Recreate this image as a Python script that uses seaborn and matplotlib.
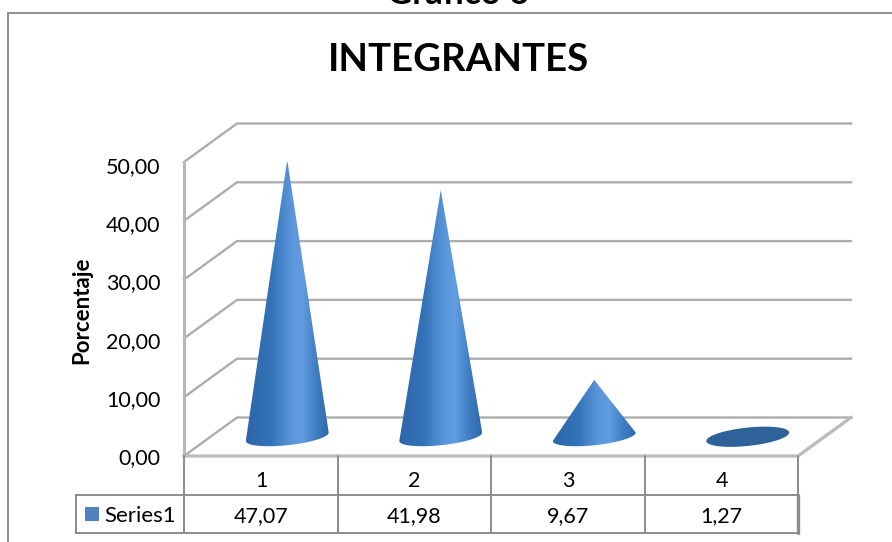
import numpy as np
import pandas as pd
import matplotlib
matplotlib.use("Agg")
import matplotlib.pyplot as plt
from matplotlib.colors import LinearSegmentedColormap
from matplotlib.patches import PathPatch, Rectangle
from matplotlib.path import Path
import seaborn as sns

categories = ["1", "2", "3", "4"]
series_name = "Series1"
values = [47.07, 41.98, 9.67, 1.27]
value_labels = ["47,07", "41,98", "9,67", "1,27"]
y_ticks = [0, 10, 20, 30, 40, 50]
y_tick_labels = ["0,00", "10,00", "20,00", "30,00", "40,00", "50,00"]

W, H = 892, 542
FONT = "Lato"
GRID = "#adadad"
TABLE = "#8c8c8c"
SWATCH = "#4f81bd"

sns.set_theme(style="white")
plt.rcParams["font.family"] = [FONT, "DejaVu Sans"]

fig = plt.figure(figsize=(W / 100, H / 100), dpi=100, facecolor="white")

# Plot floor: front edge of the 3D box, in figure pixels
L, R, TOP, BOT = 184, 798, 162, 456
ax = fig.add_axes([L / W, 1 - BOT / H, (R - L) / W, (BOT - TOP) / H])
frame = pd.DataFrame({"categoria": categories, "porcentaje": values})
sns.barplot(data=frame, x="categoria", y="porcentaje", ax=ax, width=0.54,
            color=SWATCH, saturation=1)
ax.set_xlim(-0.5, 3.5)
ax.set_ylim(0, 50)
ax.set_axis_off()

px_x = (R - L) / 4
px_y = (BOT - TOP) / 50
depth_x = 53 / px_x
depth_y = 38.5 / px_y


def seg(xs, ys, color=GRID, lw=1.7, z=1):
    ax.plot(xs, ys, color=color, lw=lw, clip_on=False, zorder=z,
            solid_capstyle="projecting", solid_joinstyle="miter")


# Box: side wall, back wall and floor
x0, x1 = -0.5, 3.5
for t in y_ticks:
    seg([x0, x0 + depth_x, x1 + depth_x], [t, t + depth_y, t + depth_y])
seg([x0, x0], [0, 50], lw=2.2, color="#b8b8b8")
seg([x0, x1, x1 + depth_x], [0, 0, depth_y], lw=2.4, color="#bcbcbc")

# Each bar supplies the centre and height of one cone
cone_cmap = LinearSegmentedColormap.from_list(
    "cone", [(0.0, "#2c66a8"), (0.3, "#3473b8"), (0.55, "#5b96dc"),
             (0.68, "#609cdf"), (0.85, "#3f7cc2"), (1.0, "#2c69ad")])
gradient = np.linspace(0, 1, 256).reshape(1, -1)

for patch, value in zip(list(ax.patches), values):
    half = patch.get_width() / 2
    cx = patch.get_x() + half + depth_x / 2
    cy = depth_y / 2
    patch.set_visible(False)
    tilt = 4.2 / px_y
    minor = 8.5 / px_y
    t = np.linspace(0, 2 * np.pi, 121)
    # A very short cone shows only its tilted base
    if value < 2:
        ex = cx + half * np.cos(t)
        ey = cy + tilt * np.cos(t) + (9.2 / px_y) * np.sin(t)
        outline = np.column_stack([ex, ey])
        ax.add_patch(PathPatch(Path(np.vstack([outline, outline[0]])),
                               facecolor="#2f6299", edgecolor="none", zorder=3,
                               clip_on=False))
        continue
    lower = t[(t >= np.pi) & (t <= 2 * np.pi)]
    bx = cx + half * np.cos(lower)
    by = cy + tilt * np.cos(lower) + minor * np.sin(lower)
    apex = (cx, cy + value)
    poly = np.vstack([np.column_stack([bx, by]), [apex], [bx[0], by[0]]])
    clip = PathPatch(Path(poly), transform=ax.transData, facecolor="none",
                     edgecolor="none")
    ax.add_patch(clip)
    im = ax.imshow(gradient, extent=[cx - half, cx + half, cy - 3, cy + value],
                   cmap=cone_cmap, aspect="auto", zorder=3, clip_on=True,
                   interpolation="bilinear")
    im.set_clip_path(clip)

ax.set_xlim(-0.5, 3.5)
ax.set_ylim(0, 50)

# Y scale labels sit slightly below their gridlines
for t, lab in zip(y_ticks, y_tick_labels):
    ax.annotate(lab, xy=(x0, t), xytext=(-23.5 / 1.389, -(2 + t * 0.06) / 1.389),
                textcoords="offset points", ha="right", va="center", fontsize=15.5,
                color="black", annotation_clip=False)

# Figure-level overlay in pixel coordinates for the frame, titles and data table
ov = fig.add_axes([0, 0, 1, 1], facecolor="none", zorder=5)
ov.set_xlim(0, W)
ov.set_ylim(H, 0)
ov.set_axis_off()

ov.plot([8, 8, W], [H, 13, 13], color="#8f8f8f", lw=1.4, solid_joinstyle="miter")
ov.text(458, 4, "Gráfico 6", ha="center", va="baseline", fontsize=25, weight="bold",
        color="black", clip_on=True)
ov.text(458, 60, "INTEGRANTES", ha="center", va="center", fontsize=27.6, weight="bold",
        color="black")
ov.text(82, 310, "Porcentaje", rotation=90, ha="center", va="center", fontsize=16,
        weight="bold", color="black")

# Data table under the plot
col_edges = [184, 338, 491, 645, 798]
row_top, row_mid, row_bot = 456, 495, 533
ov.plot([76, 798], [row_mid, row_mid], color=TABLE, lw=1.4)
ov.plot([76, 798], [row_bot, row_bot], color=TABLE, lw=1.4)
ov.plot([76, 76], [row_mid, row_bot], color=TABLE, lw=1.4)
for x in col_edges:
    ov.plot([x, x], [row_top, row_bot], color=TABLE, lw=1.4)
ov.plot([798, 798], [row_mid, row_bot], color=TABLE, lw=2.4)

for i, (cat, lab) in enumerate(zip(categories, value_labels)):
    xc = (col_edges[i] + col_edges[i + 1]) / 2
    ov.text(xc, 481, cat, ha="center", va="center", fontsize=15.5, color="black")
    ov.text(xc, 516.5, lab, ha="center", va="center", fontsize=15.5, color="black")

ov.add_patch(Rectangle((85, 507), 14, 14, facecolor=SWATCH, edgecolor="none"))
ov.text(104, 516.5, series_name, ha="left", va="center", fontsize=16, color="black")

fig.savefig("out.png", dpi=100, facecolor="white")
